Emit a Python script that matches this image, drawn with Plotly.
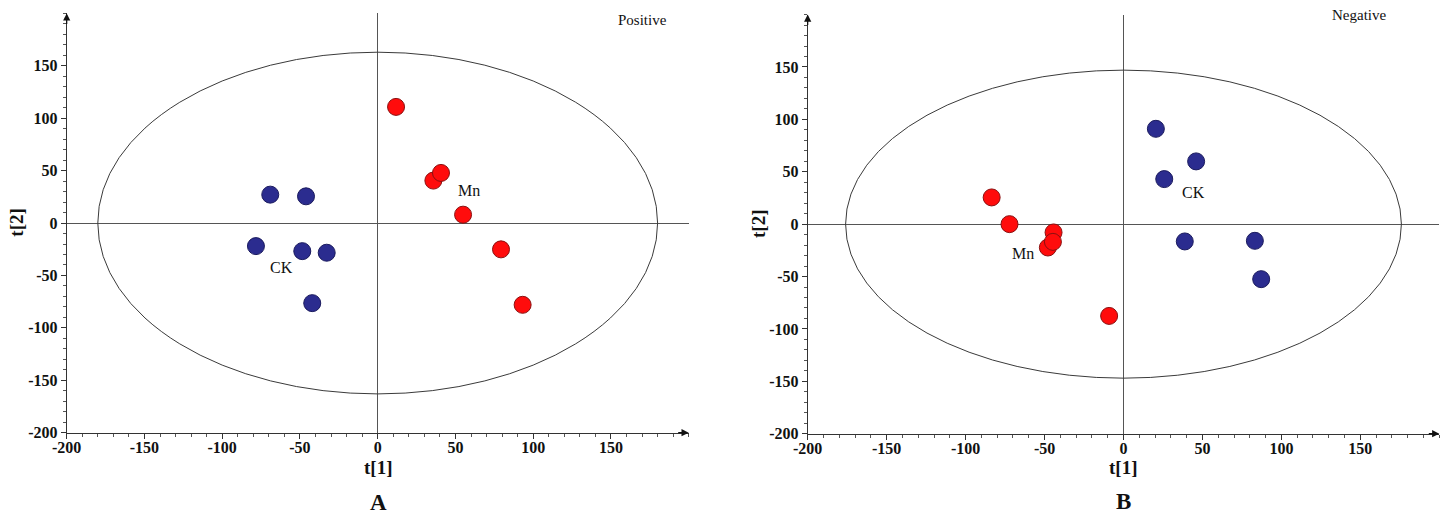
import plotly.graph_objects as go

# ---- data ----
pos_ck_x = [-69.1, -46.1, -78.3, -48.5, -32.8, -42.1]
pos_ck_y = [27.1, 25.5, -22.0, -26.8, -28.3, -76.4]
pos_mn_x = [11.8, 35.8, 40.7, 54.9, 79.3, 93.2]
pos_mn_y = [110.8, 40.5, 47.8, 8.0, -25.1, -78.0]

neg_mn_x = [-83.5, -72.2, -44.3, -47.9, -44.7, -9.1]
neg_mn_y = [25.5, 0.0, -7.9, -22.3, -16.9, -87.6]
neg_ck_x = [20.5, 46.0, 25.8, 38.8, 83.2, 87.2]
neg_ck_y = [91.0, 59.9, 43.0, -16.5, -15.9, -52.5]

pos_ellipse = (180, 163)
neg_ellipse = (176, 147)

x_ticks = [-200, -150, -100, -50, 0, 50, 100, 150]
y_ticks = [-200, -150, -100, -50, 0, 50, 100, 150]

BLUE = "#2B2C8F"
BLUE_EDGE = "#1B1B5E"
RED = "#FF0C0C"
RED_EDGE = "#8A1010"
FONT = "Liberation Serif"

W, H = 1448, 515
fig = go.Figure()

def mk(x, y, color, edge, xa, ya):
    return go.Scatter(x=x, y=y, mode="markers", xaxis=xa, yaxis=ya,
                      marker=dict(size=17, color=color, line=dict(color=edge, width=1)),
                      showlegend=False, hoverinfo="x+y")

fig.add_trace(mk(pos_ck_x, pos_ck_y, BLUE, BLUE_EDGE, "x", "y"))
fig.add_trace(mk(pos_mn_x, pos_mn_y, RED, RED_EDGE, "x", "y"))
fig.add_trace(mk(neg_mn_x, neg_mn_y, RED, RED_EDGE, "x2", "y2"))
fig.add_trace(mk(neg_ck_x, neg_ck_y, BLUE, BLUE_EDGE, "x2", "y2"))

def axis(domain, anchor, vals, standoff=0):
    return dict(domain=domain, range=[-200, 200], anchor=anchor, automargin=False,
                showgrid=False, zeroline=True, zerolinecolor="#555555", zerolinewidth=1,
                showline=True, linecolor="#333333", linewidth=1,
                ticks="outside", ticklen=5, tickcolor="#333333", tickwidth=1,
                tickvals=vals, ticktext=[str(v) for v in vals],
                ticklabelstandoff=standoff,
                minor=dict(dtick=10, ticks="outside", ticklen=3, tickcolor="#555555"),
                tickfont=dict(family=FONT, size=16, color="#111111", weight="bold"),
                fixedrange=True)

L_x = [66.7 / W, 688.7 / W]
L_y = [1 - 432.7 / H, 1 - 13.4 / H]
R_x = [807.7 / W, 1439.3 / W]
R_y = [1 - 433.7 / H, 1 - 14.6 / H]

fig.update_layout(
    width=W, height=H, margin=dict(l=0, r=0, t=0, b=0, autoexpand=False),
    paper_bgcolor="white", plot_bgcolor="white",
    xaxis=axis(L_x, "y", x_ticks, -5), yaxis=axis(L_y, "x", y_ticks),
    xaxis2=axis(R_x, "y2", x_ticks, -5), yaxis2=axis(R_y, "x2", y_ticks),
)

shapes = []
for (a, b), xr, yr in [(pos_ellipse, "x", "y"), (neg_ellipse, "x2", "y2")]:
    shapes.append(dict(type="circle", xref=xr, yref=yr, x0=-a, x1=a, y0=-b, y1=b,
                       line=dict(color="#3a3a3a", width=1)))
fig.update_layout(shapes=shapes)

ann = []
def txt(x, y, s, xr, yr, size=16, bold=False):
    ann.append(dict(x=x, y=y, xref=xr, yref=yr, text=s, showarrow=False,
                    xanchor="center", yanchor="middle",
                    font=dict(family=FONT, size=size, color="#111111",
                              weight="bold" if bold else "normal")))

txt(-61.7, -42, "CK", "x", "y")
txt(58.9, 31.2, "Mn", "x", "y")
txt(170, 194, "Positive", "x", "y", size=15)
txt(-63.9, -28, "Mn", "x2", "y2")
txt(44.3, 29.9, "CK", "x2", "y2")
txt(149, 200, "Negative", "x2", "y2", size=15)

# axis titles and panel letters (paper coords)
def ptxt(px, py, s, size, angle=0):
    ann.append(dict(x=px / W, y=1 - py / H, xref="paper", yref="paper", text=s,
                    showarrow=False, textangle=angle, xanchor="center", yanchor="middle",
                    font=dict(family=FONT, size=size, color="#111111", weight="bold")))

ptxt(377.7, 467, "t[1]", 19)
ptxt(17, 222.7, "t[2]", 19, angle=-90)
ptxt(378.7, 502, "A", 23)
ptxt(1123.3, 467, "t[1]", 19)
ptxt(759, 224, "t[2]", 19, angle=-90)
ptxt(1123.3, 501, "B", 23)

# axis arrows
for xr, yr in [("x", "y"), ("x2", "y2")]:
    ann.append(dict(x=200, y=-200, xref=xr, yref=yr, ax=-12, ay=0, text="",
                    showarrow=True, arrowhead=2, arrowsize=1.2, arrowwidth=1.2, arrowcolor="#111111",
                    standoff=0))
    ann.append(dict(x=-200, y=200, xref=xr, yref=yr, ax=0, ay=12, text="",
                    showarrow=True, arrowhead=2, arrowsize=1.2, arrowwidth=1.2, arrowcolor="#111111",
                    standoff=0))

fig.update_layout(annotations=ann)
fig.write_html("out.html", config={"displayModeBar": False},
               post_script="document.body.style.margin='0';document.body.style.padding='0';"
                           "document.documentElement.style.overflow='hidden';")
